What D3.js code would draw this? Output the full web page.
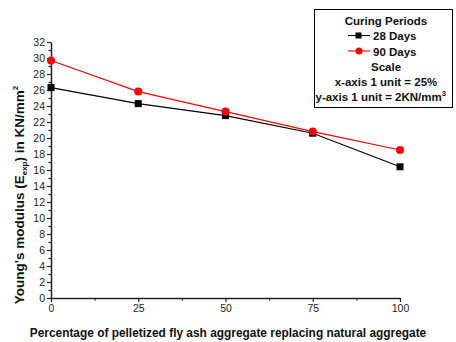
<!DOCTYPE html>
<html>
<head>
<meta charset="utf-8">
<script src="https://cdn.jsdelivr.net/npm/d3@7"></script>
<style>
  body { margin: 0; background: #fff; }
  text { font-family: "Liberation Sans", Arial, sans-serif; }
</style>
</head>
<body>
<div id="chart"></div>
<script>
const replacement = [0, 25, 50, 75, 100];
const days28 = [26.3, 24.3, 22.8, 20.6, 16.4];
const days90 = [29.7, 25.8, 23.3, 20.8, 18.5];
const xTicks = [0, 25, 50, 75, 100];
const yTicks = d3.range(0, 33, 2);

const W = 456, H = 342;
const margin = { top: 42, right: 56, bottom: 44, left: 51 };
const width = W - margin.left - margin.right;
const height = H - margin.top - margin.bottom;

const svg = d3.select('#chart').append('svg')
  .attr('width', W).attr('height', H);

const g = svg.append('g')
  .attr('transform', `translate(${margin.left}, ${margin.top})`);

const x = d3.scaleLinear().domain([0, 100]).range([0, width]);
const y = d3.scaleLinear().domain([0, 32]).range([height, 0]);

// minor ticks
g.append('g')
  .attr('transform', `translate(0, ${height})`)
  .call(d3.axisBottom(x).tickValues([12.5, 37.5, 62.5, 87.5]).tickSize(2.5).tickFormat(''))
  .call(a => a.select('.domain').remove());
g.append('g')
  .call(d3.axisLeft(y).tickValues(d3.range(1, 32, 2)).tickSize(2.5).tickFormat(''))
  .call(a => a.select('.domain').remove());

// X axis
g.append('g')
  .attr('transform', `translate(0, ${height})`)
  .call(d3.axisBottom(x).tickValues(xTicks).tickSize(4).tickSizeOuter(0).tickPadding(3));

// Y axis
g.append('g')
  .call(d3.axisLeft(y).tickValues(yTicks).tickSize(4).tickSizeOuter(0).tickPadding(2));

g.selectAll('.tick line').attr('stroke', '#222').attr('stroke-width', 1.2);
g.selectAll('.domain').attr('stroke', '#222').attr('stroke-width', 1.5);
g.selectAll('.tick text').attr('font-size', 10.5).attr('fill', '#222')
  .style('font-family', '"Liberation Sans", Arial, sans-serif');

const line = d3.line().x((d, i) => x(replacement[i])).y(d => y(d));

g.append('path').datum(days28)
  .attr('fill', 'none').attr('stroke', '#000').attr('stroke-width', 1.1)
  .attr('d', line);
g.append('path').datum(days90)
  .attr('fill', 'none').attr('stroke', '#ff0000').attr('stroke-width', 1.1)
  .attr('d', line);

g.selectAll('rect.m28').data(days28).enter().append('rect')
  .attr('class', 'm28')
  .attr('x', (d, i) => x(replacement[i]) - 3.5)
  .attr('y', d => y(d) - 3.5)
  .attr('width', 7).attr('height', 7)
  .attr('fill', '#000');

g.selectAll('circle.m90').data(days90).enter().append('circle')
  .attr('class', 'm90')
  .attr('cx', (d, i) => x(replacement[i]))
  .attr('cy', d => y(d))
  .attr('r', 4)
  .attr('fill', '#ff0000');

// X-axis label
svg.append('text')
  .attr('x', 228)
  .attr('y', 337)
  .attr('text-anchor', 'middle')
  .attr('font-size', 11.9).attr('font-weight', 'bold').attr('fill', '#111')
  .text('Percentage of pelletized fly ash aggregate replacing natural aggregate');

// Y-axis label
const yl = svg.append('text')
  .attr('transform', 'translate(24, 195) rotate(-90)')
  .attr('text-anchor', 'middle')
  .attr('font-size', 13.5).attr('font-weight', 'bold').attr('fill', '#111');
yl.append('tspan').text("Young's modulus (E");
yl.append('tspan').attr('font-size', 8).attr('dy', 3).text('exp');
yl.append('tspan').attr('dy', -3).text(') in KN/mm');
yl.append('tspan').attr('font-size', 8).attr('dy', -6).text('2');

// Legend
const lg = svg.append('g');
lg.append('rect')
  .attr('x', 314.5).attr('y', 9.5).attr('width', 138).attr('height', 98)
  .attr('fill', '#fff').attr('stroke', '#000').attr('stroke-width', 1);

const cx = 386;
const fs = 11.5;
const legText = (txt, yy) => lg.append('text')
  .attr('x', cx).attr('y', yy).attr('text-anchor', 'middle')
  .attr('font-size', fs).attr('font-weight', 'bold').attr('fill', '#111')
  .text(txt);

legText('Curing Periods', 25);

lg.append('line').attr('x1', 348).attr('x2', 370).attr('y1', 35.5).attr('y2', 35.5)
  .attr('stroke', '#000').attr('stroke-width', 1.1);
lg.append('rect').attr('x', 355.5).attr('y', 32.5).attr('width', 6).attr('height', 6).attr('fill', '#000');
lg.append('text').attr('x', 373).attr('y', 40)
  .attr('font-size', fs).attr('font-weight', 'bold').attr('fill', '#111').text('28 Days');

lg.append('line').attr('x1', 348).attr('x2', 370).attr('y1', 51).attr('y2', 51)
  .attr('stroke', '#ff0000').attr('stroke-width', 1.1);
lg.append('circle').attr('cx', 359).attr('cy', 51).attr('r', 3.5).attr('fill', '#ff0000');
lg.append('text').attr('x', 373).attr('y', 55.5)
  .attr('font-size', fs).attr('font-weight', 'bold').attr('fill', '#111').text('90 Days');

legText('Scale', 70.5);
legText('x-axis 1 unit = 25%', 86);

const t6 = lg.append('text')
  .attr('x', 315.5).attr('y', 101)
  .attr('font-size', fs).attr('font-weight', 'bold').attr('fill', '#111');
t6.append('tspan').text('y-axis 1 unit = 2KN/mm');
t6.append('tspan').attr('font-size', 7.5).attr('dy', -5).text('3');
</script>
</body>
</html>
